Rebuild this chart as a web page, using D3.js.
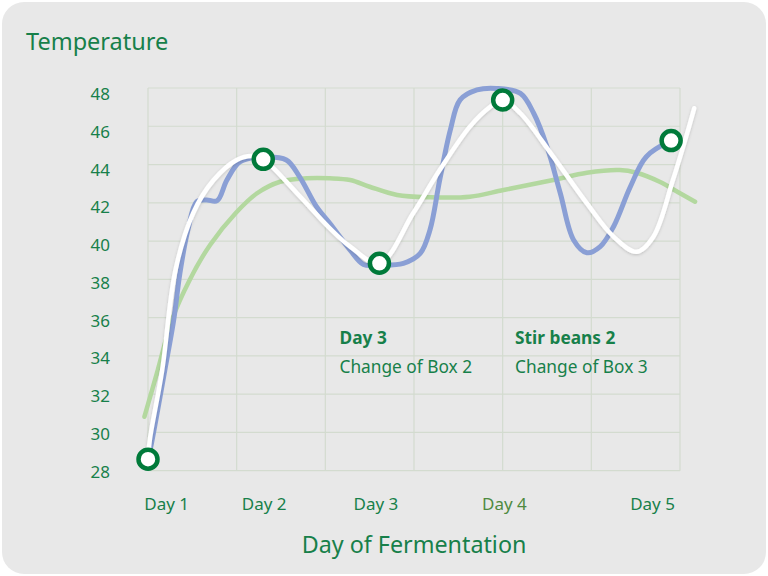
<!DOCTYPE html>
<html>
<head>
<meta charset="utf-8">
<script src="https://cdn.jsdelivr.net/npm/d3@7"></script>
<style>
  html, body { margin: 0; padding: 0; background: #ffffff; }
  svg { display: block; font-family: "Noto Sans", "Open Sans", sans-serif; }
</style>
</head>
<body>
<svg id="chart" width="768" height="576"></svg>
<script>
// ---- data (x in grid units, y in temperature) ----
const yTicks = [28, 30, 32, 34, 36, 38, 40, 42, 44, 46, 48];
const xGrid = [0, 1, 2, 3, 4, 5, 6];
const dayLabels = ["Day 1", "Day 2", "Day 3", "Day 4", "Day 5"];
const dayLabelPos = [0.21, 1.31, 2.57, 4.02, 5.69];

const blueX = [0, 0.04, 0.19, 0.29, 0.36, 0.45, 0.55, 0.66, 0.78, 0.89, 1.04, 1.30, 1.56, 1.71, 1.90, 2.05, 2.28, 2.43, 2.61, 2.88, 3.07, 3.18, 3.29, 3.41, 3.52, 3.71, 3.93, 4.20, 4.35, 4.50, 4.65, 4.80, 4.95, 5.10, 5.25, 5.44, 5.62, 5.90];
const blueY = [28.6, 29.45, 33.26, 35.88, 38.33, 40.58, 42.06, 42.15, 42.11, 43.19, 44.15, 44.39, 44.24, 43.36, 41.80, 40.93, 39.53, 38.78, 38.75, 38.84, 39.36, 40.58, 43.19, 45.81, 47.38, 47.90, 47.98, 47.72, 46.68, 44.93, 42.50, 40.06, 39.39, 39.71, 40.75, 42.84, 44.41, 45.25];

const whiteX = [0, 0.02, 0.16, 0.31, 0.51, 0.74, 1.00, 1.17, 1.30, 1.68, 2.05, 2.28, 2.61, 2.99, 3.29, 3.63, 3.86, 4.00, 4.20, 4.57, 4.95, 5.25, 5.51, 5.70, 5.92, 6.08, 6.16];
const whiteY = [28.6, 29.60, 33.26, 38.49, 41.47, 43.19, 44.24, 44.45, 44.27, 42.50, 40.67, 39.71, 38.84, 41.45, 43.71, 45.98, 47.02, 47.37, 46.68, 44.41, 41.97, 40.23, 39.44, 40.23, 43.19, 45.63, 46.94];

const greenX = [-0.04, 0.11, 0.27, 0.47, 0.70, 0.99, 1.23, 1.49, 1.79, 2.05, 2.28, 2.50, 2.81, 3.18, 3.63, 4.01, 4.57, 4.95, 5.32, 5.51, 5.77, 6.00, 6.17];
const greenY = [30.82, 33.26, 35.88, 37.97, 39.80, 41.47, 42.50, 43.10, 43.28, 43.28, 43.19, 42.84, 42.41, 42.29, 42.32, 42.67, 43.19, 43.57, 43.71, 43.57, 43.10, 42.50, 42.06];

const markerX = [0, 1.30, 2.61, 4.00, 5.90];
const markerY = [28.6, 44.27, 38.84, 47.37, 45.25];

const notes = [
  { x: 2.16, title: "Day 3", text: "Change of Box 2" },
  { x: 4.14, title: "Stir beans 2", text: "Change of Box 3" }
];
const noteTitleY = 34.6, noteTextY = 33.1;

// ---- drawing ----
const svg = d3.select("#chart");
const textGreen = "#17804a";

svg.append("rect").attr("x", 2).attr("y", 2).attr("width", 764).attr("height", 572)
  .attr("rx", 22).attr("fill", "#e8e8e8");

const x = d3.scaleLinear().domain([0, 6]).range([148, 680]);
const y = d3.scaleLinear().domain([28, 48]).range([470.7, 88]);
const yLab = d3.scaleLinear().domain([28, 48]).range([471.7, 94.3]);

const grid = svg.append("g").attr("stroke", "#d3dbcf").attr("stroke-width", 1.2);
grid.selectAll("line.h").data(yTicks).join("line").attr("class", "h")
  .attr("x1", x(0)).attr("x2", x(6)).attr("y1", d => y(d)).attr("y2", d => y(d));
grid.selectAll("line.v").data(xGrid).join("line").attr("class", "v")
  .attr("x1", d => x(d)).attr("x2", d => x(d)).attr("y1", y(48)).attr("y2", y(28));

svg.append("g").selectAll("text").data(yTicks).join("text")
  .attr("x", 110).attr("y", d => yLab(d)).attr("dy", "0.35em")
  .attr("text-anchor", "end").attr("font-size", 17).attr("fill", textGreen)
  .text(d => d);

svg.append("g").selectAll("text").data(dayLabels).join("text")
  .attr("x", (d, i) => x(dayLabelPos[i])).attr("y", 510)
  .attr("text-anchor", "middle").attr("font-size", 17)
  .attr("fill", (d, i) => i === 3 ? "#4e8a40" : textGreen)
  .text(d => d);

svg.append("text").attr("x", 26).attr("y", 50).attr("font-size", 23.5)
  .attr("fill", textGreen).text("Temperature");
svg.append("text").attr("x", 414).attr("y", 553).attr("text-anchor", "middle")
  .attr("font-size", 23.3).attr("fill", textGreen).text("Day of Fermentation");

const ng = svg.append("g").attr("fill", textGreen).attr("font-size", 17.3);
ng.selectAll("text.t").data(notes).join("text").attr("class", "t")
  .attr("x", d => x(d.x)).attr("y", y(noteTitleY)).attr("font-weight", "bold").text(d => d.title);
ng.selectAll("text.s").data(notes).join("text").attr("class", "s")
  .attr("x", d => x(d.x)).attr("y", y(noteTextY)).text(d => d.text);

const defs = svg.append("defs");
const f = defs.append("filter").attr("id", "sh").attr("x", "-10%").attr("y", "-10%").attr("width", "120%").attr("height", "120%");
f.append("feDropShadow").attr("dx", 0).attr("dy", 1).attr("stdDeviation", 1.5).attr("flood-color", "#000").attr("flood-opacity", 0.18);

const line = d3.line().x(d => x(d[0])).y(d => y(d[1])).curve(d3.curveCatmullRom.alpha(0.5));
const zip = (a, b) => a.map((v, i) => [v, b[i]]);

svg.append("path").datum(zip(greenX, greenY)).attr("d", line)
  .attr("fill", "none").attr("stroke", "#b3d89f").attr("stroke-width", 4.5).attr("stroke-linecap", "round");
svg.append("path").datum(zip(blueX, blueY)).attr("d", line)
  .attr("fill", "none").attr("stroke", "#8a9fd5").attr("stroke-width", 5).attr("stroke-linecap", "round");
svg.append("path").datum(zip(whiteX, whiteY)).attr("d", line)
  .attr("fill", "none").attr("stroke", "#ffffff").attr("stroke-width", 4.5).attr("stroke-linecap", "round")
  .attr("filter", "url(#sh)");

svg.append("g").selectAll("circle").data(markerX).join("circle")
  .attr("cx", d => x(d)).attr("cy", (d, i) => y(markerY[i])).attr("r", 9.5)
  .attr("fill", "#ffffff").attr("stroke", "#007a3a").attr("stroke-width", 4.5);
</script>
</body>
</html>
